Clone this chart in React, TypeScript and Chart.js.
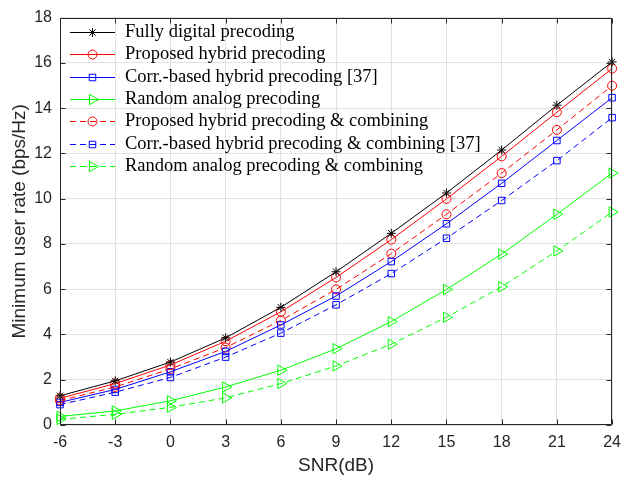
import React, { useEffect, useRef } from "react";
import { Chart, registerables } from "chart.js";
import { drawPoint } from "chart.js/helpers";

Chart.register(...registerables);

const snr = [-6, -3, 0, 3, 6, 9, 12, 15, 18, 21, 24];
const fullyDigital = [1.29, 1.95, 2.78, 3.85, 5.2, 6.77, 8.47, 10.25, 12.15, 14.13, 16.04];
const proposedHybrid = [1.18, 1.83, 2.65, 3.7, 5.0, 6.52, 8.19, 9.99, 11.87, 13.82, 15.75];
const corrHybrid = [1.0, 1.57, 2.35, 3.25, 4.42, 5.7, 7.22, 8.89, 10.68, 12.57, 14.46];
const randomAnalog = [0.38, 0.62, 1.07, 1.68, 2.42, 3.37, 4.57, 5.99, 7.55, 9.31, 11.13];
const proposedHybridComb = [1.08, 1.68, 2.48, 3.42, 4.62, 5.99, 7.57, 9.31, 11.13, 13.04, 14.99];
const corrHybridComb = [0.9, 1.45, 2.1, 3.0, 4.06, 5.31, 6.69, 8.25, 9.92, 11.68, 13.58];
const randomAnalogComb = [0.25, 0.47, 0.78, 1.2, 1.83, 2.61, 3.57, 4.76, 6.11, 7.69, 9.41];

const seriesLabels = [
  "Fully digital precoding",
  "Proposed hybrid precoding",
  "Corr.-based hybrid precoding [37]",
  "Random analog precoding",
  "Proposed hybrid precoding & combining",
  "Corr.-based hybrid precoding & combining [37]",
  "Random analog precoding & combining",
];
const seriesValues = [
  fullyDigital,
  proposedHybrid,
  corrHybrid,
  randomAnalog,
  proposedHybridComb,
  corrHybridComb,
  randomAnalogComb,
];
const xTitle = "SNR(dB)";
const yTitle = "Minimum user rate (bps/Hz)";

const colors = ["#000000", "#ff0000", "#0000ff", "#00ff00", "#ff0000", "#0000ff", "#00ff00"];
const dashed = [false, false, false, false, true, true, true];
const styles = ["star", "circle", "rect", "triangle", "circle", "rect", "triangle"];
const radii = [4.5, 4.5, 4.6, 6, 4.5, 4.6, 6];
const rotations = [0, 0, 0, 90, 0, 0, 90];
const DASH = [6, 4];
const AXIS = "#262626";
const SANS = "'Liberation Sans', Arial, sans-serif";
const SERIF = "'Liberation Serif', 'Times New Roman', serif";

const boxPlugin = {
  id: "matlabBox",
  afterDatasetsDraw(chart: any) {
    const { ctx, chartArea } = chart;
    const { left, right, top, bottom } = chartArea;
    const xs = chart.scales.x;
    const ys = chart.scales.y;
    ctx.save();
    ctx.strokeStyle = AXIS;
    ctx.lineWidth = 1;
    ctx.setLineDash([]);
    const L = Math.round(left) + 0.5;
    const R = Math.round(right) - 0.5;
    const T = Math.round(top) + 0.5;
    const B = Math.round(bottom) - 0.5;
    ctx.beginPath();
    ctx.rect(L, T, R - L, B - T);
    for (const t of xs.ticks) {
      const p = Math.round(xs.getPixelForValue(t.value)) + 0.5;
      ctx.moveTo(p, B);
      ctx.lineTo(p, B - 5);
      ctx.moveTo(p, T);
      ctx.lineTo(p, T + 5);
    }
    for (const t of ys.ticks) {
      const p = Math.round(ys.getPixelForValue(t.value)) + 0.5;
      ctx.moveTo(L, p);
      ctx.lineTo(L + 5, p);
      ctx.moveTo(R, p);
      ctx.lineTo(R - 5, p);
    }
    ctx.stroke();

    // legend
    const x0 = 70;
    const x1 = 115;
    const xm = 92.5;
    chart.data.datasets.forEach((ds: any, i: number) => {
      const y = Math.round(32 + i * 22.3) + 0.5;
      ctx.strokeStyle = ds.borderColor;
      ctx.lineWidth = 1;
      ctx.setLineDash(ds.borderDash || []);
      ctx.beginPath();
      ctx.moveTo(x0, y);
      ctx.lineTo(x1, y);
      ctx.stroke();
      ctx.setLineDash([]);
      ctx.fillStyle = "rgba(0,0,0,0)";
      drawPoint(
        ctx,
        { pointStyle: ds.pointStyle, radius: ds.pointRadius, rotation: ds.pointRotation, borderWidth: 1 } as any,
        xm,
        y
      );
      ctx.fillStyle = "#000000";
      ctx.font = `18.5px ${SERIF}`;
      ctx.textBaseline = "middle";
      ctx.textAlign = "left";
      ctx.fillText(ds.label, 125, y);
    });
    ctx.restore();
  },
};

export default function App() {
  const ref = useRef<HTMLCanvasElement>(null);
  useEffect(() => {
    document.body.style.margin = "0";
    const canvas = ref.current!;
    const datasets = seriesLabels.map((label, i) => ({
      label,
      data: snr.map((x, j) => ({ x, y: seriesValues[i][j] })),
      borderColor: colors[i],
      backgroundColor: "rgba(0,0,0,0)",
      borderWidth: 1,
      borderDash: dashed[i] ? DASH : [],
      pointStyle: styles[i],
      pointRadius: radii[i],
      pointRotation: rotations[i],
      pointBorderColor: colors[i],
      pointBackgroundColor: "rgba(0,0,0,0)",
      pointBorderWidth: 1,
      tension: 0,
      clip: false as any,
      fill: false,
    }));
    const chart = new Chart(canvas, {
      type: "line",
      data: { datasets },
      plugins: [boxPlugin],
      options: {
        responsive: false,
        animation: false,
        layout: { padding: { top: 15, right: 11, left: 0, bottom: 0 } },
        plugins: { legend: { display: false }, tooltip: { enabled: false } },
        scales: {
          x: {
            type: "linear",
            min: -6,
            max: 24,
            ticks: { stepSize: 3, color: AXIS, font: { family: SANS, size: 16 }, padding: 8, maxRotation: 0 },
            grid: { color: "#e2e2e2", drawTicks: false, lineWidth: 1 },
            border: { display: false },
            title: { display: true, text: xTitle, color: AXIS, font: { family: SANS, size: 19 }, padding: { top: 0, bottom: 0 } },
            afterFit: (s: any) => {
              s.height = 52;
            },
          },
          y: {
            type: "linear",
            min: 0,
            max: 18,
            ticks: { stepSize: 2, color: AXIS, font: { family: SANS, size: 16 }, padding: 8 },
            grid: { color: "#e2e2e2", drawTicks: false, lineWidth: 1 },
            border: { display: false },
            title: { display: true, text: yTitle, color: AXIS, font: { family: SANS, size: 19 }, padding: { top: 8, bottom: 0 } },
            afterFit: (s: any) => {
              s.width = 60;
            },
          },
        },
      } as any,
    });
    return () => chart.destroy();
  }, []);
  return (
    <div style={{ position: "absolute", left: 0, top: 0, width: 629, height: 477, background: "#ffffff" }}>
      <canvas ref={ref} width={629} height={477} style={{ width: 629, height: 477, display: "block" }} />
    </div>
  );
}
